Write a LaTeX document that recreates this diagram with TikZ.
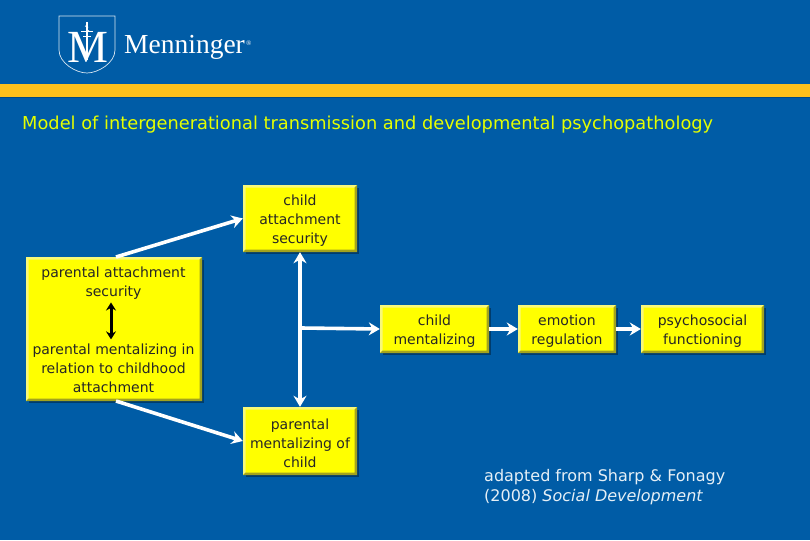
\documentclass[tikz,border=0pt]{standalone}
\usepackage{fontspec}
\setmainfont{DejaVu Sans}
\newfontfamily\logofont{Liberation Serif}
\usetikzlibrary{arrows.meta,calc}
\definecolor{bg}{HTML}{005CA6}
\definecolor{gold}{HTML}{FDC11C}
\definecolor{boxy}{HTML}{FFFF00}
\definecolor{bevlight}{HTML}{F8F87A}
\definecolor{bevdark}{HTML}{A3A31E}
\tikzset{
  x=1pt,y=-1pt,
  yellowbox/.style={fill=boxy,inner sep=0pt,align=center,font=\fontsize{14}{19}\selectfont,text=black!85},
  flow/.style={draw=white,line width=3.6pt,-{Stealth[length=11pt,width=13pt]}},
  flowboth/.style={draw=white,line width=3.6pt,{Stealth[length=11pt,width=13pt]}-{Stealth[length=11pt,width=13pt]}},
  inner/.style={draw=black,line width=3pt,{Stealth[length=8pt,width=10pt]}-{Stealth[length=8pt,width=10pt]}},
  logo/.style={draw=white!85!bg,line width=0.7pt},
  caption/.style={inner sep=0pt,anchor=west}
}
% name, x1, y1, x2, y2, text
\newcommand{\bevbox}[6]{%
  \fill[black!35!bg] (#2+3,#3+3) rectangle (#4+2,#5+2);
  \node[yellowbox,minimum width=#4pt-#2pt,minimum height=#5pt-#3pt] (#1) at ({(#2+#4)/2},{(#3+#5)/2}) {};
  \fill[bevlight] (#2,#3) -- (#4,#3) -- (#4-2.5,#3+2.5) -- (#2+2.5,#3+2.5) -- (#2+2.5,#5-2.5) -- (#2,#5) -- cycle;
  \fill[bevdark] (#4,#5) -- (#2,#5) -- (#2+2.5,#5-2.5) -- (#4-2.5,#5-2.5) -- (#4-2.5,#3+2.5) -- (#4,#3) -- cycle;
  \node[yellowbox,fill=none,yshift=-2.3pt] at (#1) {#6};
}
\begin{document}
\begin{tikzpicture}
\useasboundingbox (0,0) rectangle (810,540);
\fill[bg] (0,0) rectangle (810,540);
\fill[gold] (0,84) rectangle (810,97);
\fill[bg!80!black] (0,97) rectangle (810,98.5);
% logo
\draw[logo] (59,16) -- (115,16) -- (115,50) .. controls (115,63) and (98,73) .. (87,73) .. controls (76,73) and (59,63) .. (59,50) -- cycle;
\node[inner sep=0pt,text=white] (logoM) at (88,47) {\logofont\fontsize{46}{46}\selectfont M};
\draw[white,line width=1.1pt] (87,22) -- (87,60);
\draw[white,line width=1pt] (81,32) -- (93,32) (83,37) -- (91,37);
\draw[white,line width=0.9pt] (85,26) .. controls (92,27) and (83,30) .. (89,31);
\node[inner sep=0pt,text=white,anchor=west] (logoT) at (124,47) {\logofont\fontsize{27.5}{28}\selectfont Menninger};
\node[inner sep=0pt,text=white,anchor=west] (logoR) at (246,43) {\logofont\fontsize{7}{7}\selectfont ®};
% title
\node[caption,text=boxy!90!green] (title) at (22,124.5) {\fontsize{17.8}{22}\selectfont Model of intergenerational transmission and developmental psychopathology};
% boxes
\bevbox{ca}{243}{185}{357}{252}{child\\attachment\\security}
\bevbox{pp}{26}{257}{202}{401}{}
\bevbox{pm}{243}{407}{357}{475}{parental\\mentalizing of\\child}
\bevbox{cm}{380}{305}{489}{353}{child\\mentalizing}
\bevbox{er}{518}{305}{616}{353}{emotion\\regulation}
\bevbox{pf}{641}{305}{764}{353}{psychosocial\\functioning}
% text inside the large box
\node[yellowbox,fill=none] (ppa) at (113.5,283) {parental attachment\\security};
\node[yellowbox,fill=none] (ppb) at (113.5,368) {parental mentalizing in\\relation to childhood\\attachment};
\draw[inner] (ppa.south) ++(-2.5,3) coordinate (ia) (ppb.north) ++(-2.5,-4) coordinate (ib) (ia) -- (ib);
% connectors
\coordinate (ppn) at (116,257);
\coordinate (pps) at (116,401);
\coordinate (branch) at (301,328);
\draw[flow] (ppn) -- (ca.west);
\draw[flow] (pps) -- (pm.west);
\draw[flowboth] (ca.south) -- (pm.north);
\draw[flow] (branch) -- (cm.west);
\draw[flow] (cm.east) -- (er.west);
\draw[flow] (er.east) -- (pf.west);
% source
\node[caption,text=white!90!bg,align=left,anchor=north west,font=\fontsize{16}{20}\selectfont] (src) at (484,469) {adapted from Sharp \& Fonagy\\(2008) \textit{Social Development}};
\end{tikzpicture}
\end{document}
